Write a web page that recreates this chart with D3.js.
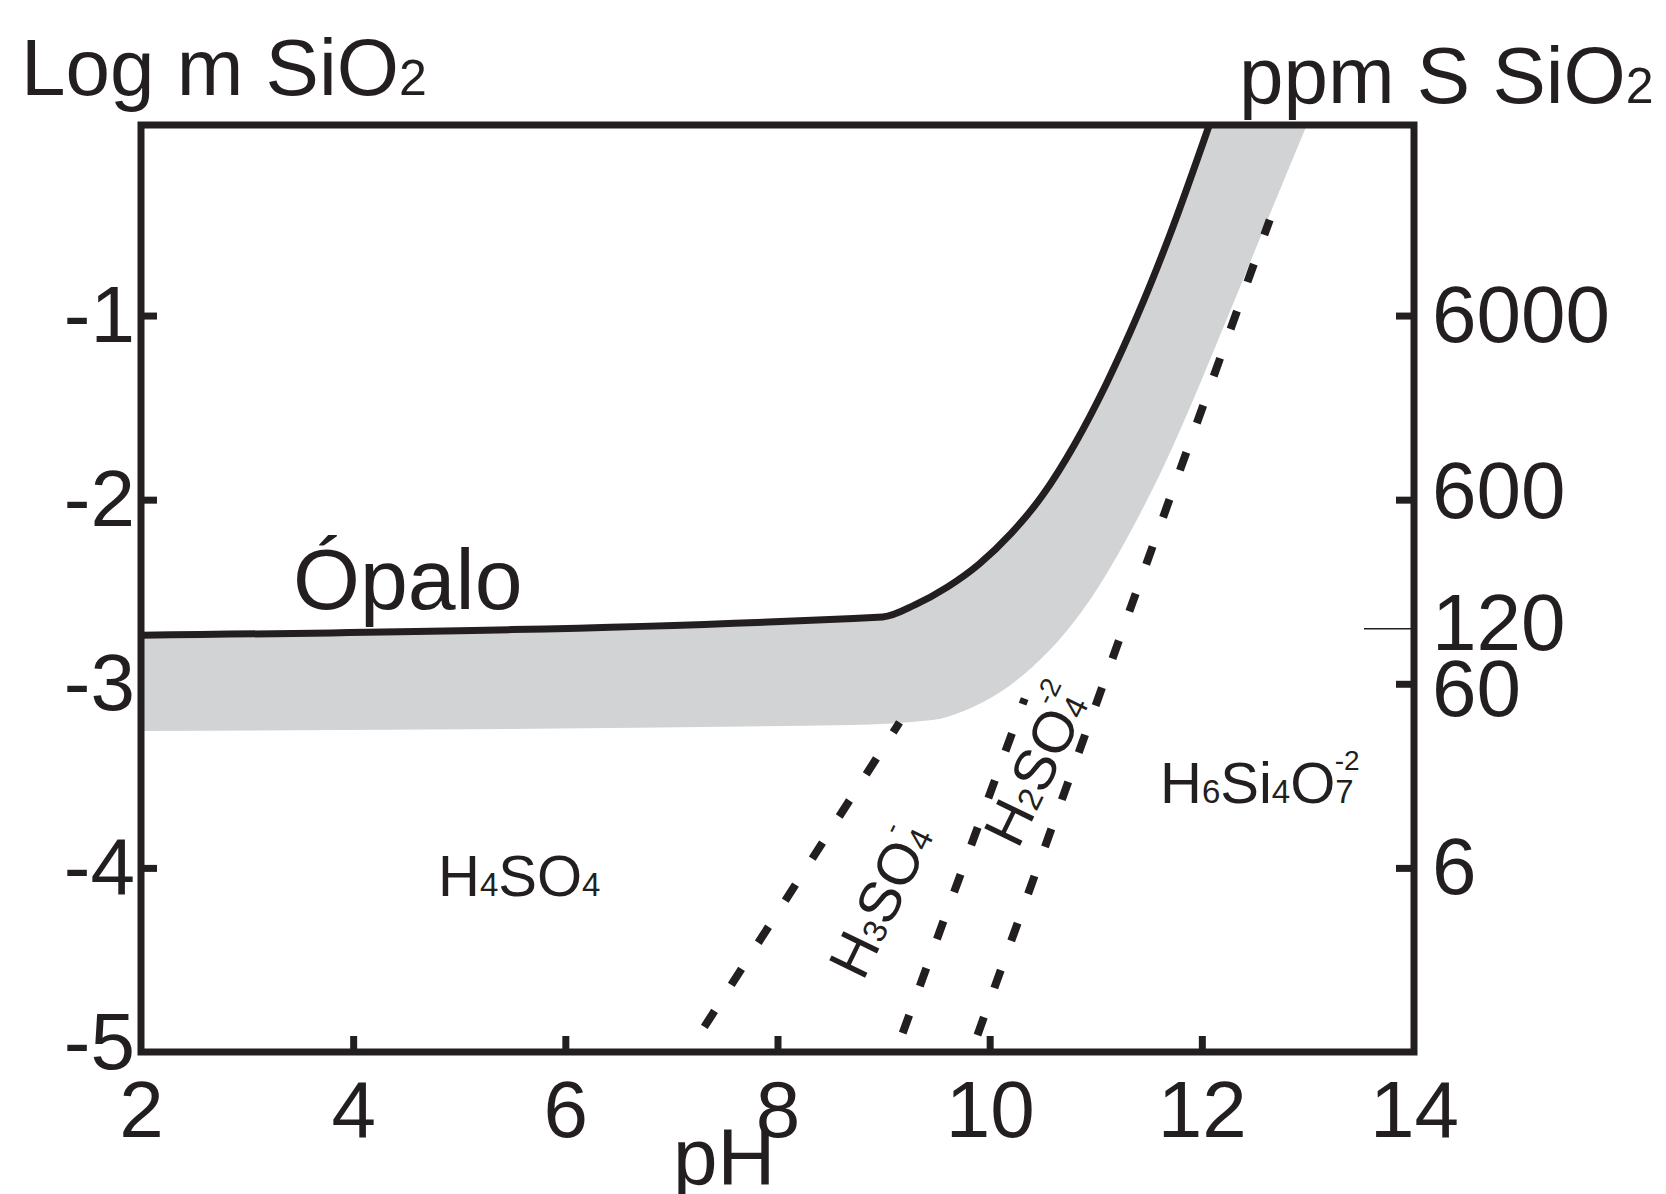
<!DOCTYPE html>
<html>
<head>
<meta charset="utf-8">
<script src="https://cdn.jsdelivr.net/npm/d3@7"></script>
<style>
  body { margin: 0; background: #fff; }
  svg { display: block; font-family: "Liberation Sans", Arial, sans-serif; }
</style>
</head>
<body>
<div id="chart"></div>
<script>
// axis ticks
var phTicks = [2, 4, 6, 8, 10, 12, 14];
var logTicks = [-1, -2, -3, -4, -5];
var ppmTicks = [6000, 600, 120, 60, 6];

// opal solubility curve (pH, log m SiO2)
var opalo = [[2, -2.737], [8.99, -2.637], [9.3, -2.57], [9.6, -2.475], [9.9, -2.35],
    [10.2, -2.185], [10.5, -1.975], [10.8, -1.70], [11.1, -1.37], [11.4, -0.99],
    [11.7, -0.56], [12.07, 0.035]];

// lower edge of the grey band
var bandLow = [[2, -3.256], [8.68, -3.224], [9.46, -3.197], [9.78, -3.142], [10.09, -3.049],
    [10.4, -2.91], [10.72, -2.718], [11.03, -2.47], [11.35, -2.15], [11.67, -1.782],
    [11.9, -1.483], [12.15, -1.138], [12.45, -0.718], [12.76, -0.284], [12.99, 0.035]];

// species boundaries (dashed)
var bound1 = [[7.31, -4.864], [9.15, -3.21]];
var bound2 = [[9.18, -4.897], [10.33, -3.08]];
var bound3 = [[9.885, -4.908], [12.64, -0.48]];

var width = 1666, height = 1194;
var ink = "#231f20";

var svg = d3.select("#chart").append("svg")
    .attr("width", width)
    .attr("height", height);

var x = d3.scaleLinear().domain([2, 14]).range([141, 1414]);
var y = d3.scaleLinear().domain([-5, 0.035]).range([1052, 125]);
// right axis: ppm SiO2 = 60000 * 10^logm
var yPpm = d3.scaleLog()
    .domain(y.domain().map(function (v) { return 60000 * Math.pow(10, v); }))
    .range(y.range());

var line = d3.line()
    .x(function (d) { return x(d[0]); })
    .y(function (d) { return y(d[1]); })
    .curve(d3.curveMonotoneX);

// left axis first so the band hides the -3 tick
var gLeft = svg.append("g")
    .attr("transform", "translate(" + x(2) + ",0)")
    .call(d3.axisLeft(y).tickValues(logTicks).tickFormat(function (d) { return String(d); })
        .tickSizeInner(-16).tickSizeOuter(0).tickPadding(6));

// grey band: upper curve + reversed lower edge
var upperPath = line(opalo);
var lowerPath = line(bandLow.slice().reverse());
svg.append("path")
    .attr("d", upperPath + "L" + lowerPath.slice(1) + "Z")
    .attr("fill", "#d1d3d4");

var gBottom = svg.append("g")
    .attr("transform", "translate(0," + y(-5) + ")")
    .call(d3.axisBottom(x).tickValues(phTicks).tickSizeInner(-16).tickSizeOuter(0).tickPadding(28));

var gRight = svg.append("g")
    .attr("transform", "translate(" + x(14) + ",0)")
    .call(d3.axisRight(yPpm).tickValues(ppmTicks).tickFormat(d3.format("d"))
        .tickSizeInner(-18).tickSizeOuter(0).tickPadding(18));

[gLeft, gBottom, gRight].forEach(function (g) {
    g.select(".domain").remove();
    g.selectAll(".tick line").attr("stroke", ink).attr("stroke-width", 7);
    g.selectAll(".tick text")
        .attr("fill", ink)
        .style("font-size", "80px")
        .style("font-family", "'Liberation Sans', Arial, sans-serif");
});
gLeft.selectAll(".tick").filter(function (d) { return d === -5; })
    .select("line").remove();
gLeft.selectAll(".tick").filter(function (d) { return d === -5; })
    .select("text").attr("dy", "0.2em");
gBottom.selectAll(".tick").filter(function (d) { return d === 2 || d === 14; })
    .select("line").remove();
gRight.selectAll(".tick").filter(function (d) { return d === 120; })
    .select("line").attr("stroke-width", 1.5).attr("x2", -50);
gRight.selectAll(".tick").filter(function (d) { return d === 120; })
    .select("text").attr("dy", "0.27em");
gRight.selectAll(".tick").filter(function (d) { return d === 60; })
    .select("text").attr("dy", "0.4em");
gRight.selectAll(".tick").filter(function (d) { return d === 600; })
    .select("text").attr("dy", "0.22em");

// opal curve
svg.append("path")
    .attr("d", line(opalo))
    .attr("fill", "none")
    .attr("stroke", ink)
    .attr("stroke-width", 7);

// dashed boundaries
[bound1, bound2, bound3].forEach(function (b) {
    svg.append("path")
        .attr("d", d3.line()
            .x(function (d) { return x(d[0]); })
            .y(function (d) { return y(d[1]); })(b))
        .attr("fill", "none")
        .attr("stroke", ink)
        .attr("stroke-width", 8)
        .attr("stroke-dasharray", "19,31");
});

// frame
svg.append("rect")
    .attr("x", x(2))
    .attr("y", y(0.035))
    .attr("width", x(14) - x(2))
    .attr("height", y(-5) - y(0.035))
    .attr("fill", "none")
    .attr("stroke", ink)
    .attr("stroke-width", 7);

// text with small digits (subscripts sit on the baseline) and stacked charges
function chem(t, parts, small, sup) {
    parts.forEach(function (p) {
        var s = t.append("tspan").text(p[0]);
        if (p[1] === "sub") s.style("font-size", small + "px");
        else if (p[1] === "sup") s.style("font-size", sup + "px").attr("dx", p[2]).attr("dy", p[3]);
    });
    return t;
}

chem(svg.append("text").attr("x", 21).attr("y", 95).attr("fill", ink).style("font-size", "80px"),
    [["Log m SiO"], ["2", "sub"]], 50);
chem(svg.append("text").attr("x", 1239).attr("y", 103).attr("fill", ink).style("font-size", "80px"),
    [["ppm S SiO"], ["2", "sub"]], 50);

svg.append("text")
    .attr("x", 293).attr("y", 609)
    .attr("fill", ink)
    .style("font-size", "86px")
    .text("Ópalo");

svg.append("text")
    .attr("x", 673).attr("y", 1184)
    .attr("fill", ink)
    .style("font-size", "80px")
    .text("pH");

// species labels
chem(svg.append("text").attr("x", 438).attr("y", 896).attr("fill", ink).style("font-size", "58px"),
    [["H"], ["4", "sub"], ["SO"], ["4", "sub"]], 33);

chem(svg.append("text").attr("x", 1160).attr("y", 803).attr("fill", ink).style("font-size", "58px"),
    [["H"], ["6", "sub"], ["Si"], ["4", "sub"], ["O"], ["7", "sub"], ["-2", "sup", -19, -33]], 33, 28);

chem(svg.append("text").attr("fill", ink).style("font-size", "58px")
        .attr("transform", "translate(863,982) rotate(-64)"),
    [["H"], ["3", "sub"], ["SO"], ["4", "sub"], ["-", "sup", -16, -33]], 33, 28);

chem(svg.append("text").attr("fill", ink).style("font-size", "58px")
        .attr("transform", "translate(1018,850) rotate(-64)"),
    [["H"], ["2", "sub"], ["SO"], ["4", "sub"], ["-2", "sup", -19, -33]], 33, 28);
</script>
</body>
</html>
